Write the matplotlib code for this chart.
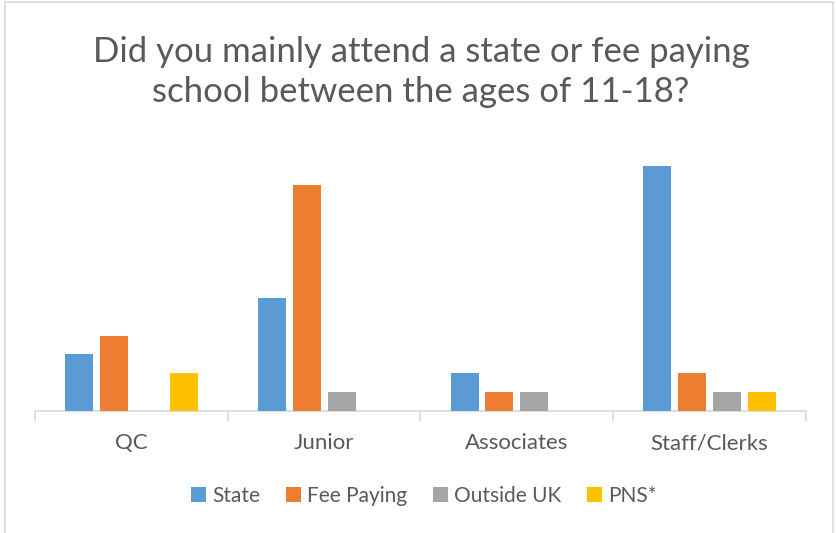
import matplotlib
matplotlib.use("Agg")
import matplotlib.pyplot as plt
import numpy as np
from matplotlib.patches import Rectangle

categories = ["QC", "Junior", "Associates", "Staff/Clerks"]
series_names = ["State", "Fee Paying", "Outside UK", "PNS*"]
state = [3, 6, 2, 13]
fee_paying = [4, 12, 1, 2]
outside_uk = [0, 1, 1, 1]
pns = [2, 0, 0, 1]
colors = ["#5B9BD5", "#ED7D31", "#A5A5A5", "#FFC000"]
title = "Did you mainly attend a state or fee paying\nschool between the ages of 11-18?"

plt.rcParams['font.family'] = ['Lato', 'DejaVu Sans']
W, H = 837, 533
fig = plt.figure(figsize=(W/100, H/100), dpi=100)
ax = fig.add_axes([35/W, 1-411/H, 771/W, (411-147)/H])

x = np.arange(len(categories))
step = 0.181
bw = 0.145
data = [state, fee_paying, outside_uk, pns]
for i, (name, vals) in enumerate(zip(series_names, data)):
    ax.bar(x + (i-1.5)*step, vals, width=bw, color=colors[i], label=name, zorder=3)

ax.set_xlim(-0.5, len(categories)-0.5)
ax.set_ylim(0, 14)
ax.set_yticks([])
for s in ['top', 'right', 'left']:
    ax.spines[s].set_visible(False)
ax.spines['bottom'].set_color('#D9D9D9')
ax.spines['bottom'].set_linewidth(1.2)
ax.set_xticks(np.arange(len(categories)+1)-0.5)
ax.set_xticklabels([])
ax.tick_params(axis='x', which='major', length=7, color='#D9D9D9', width=1.2)
ax.set_xticks(x, minor=True)
ax.set_xticklabels(categories, minor=True, fontsize=16, color='#595959')
ax.tick_params(axis='x', which='minor', length=0, pad=16)

fig.text(421/W, 1-72/H, title, ha='center', va='center', fontsize=25, color='#595959', linespacing=1.3)

leg = fig.legend(loc='center', bbox_to_anchor=(424/W, 1-496/H), ncol=4, frameon=False,
                 fontsize=15, handlelength=0.7, handleheight=0.7, handletextpad=0.3,
                 columnspacing=1.25, labelcolor='#595959')

fig.patches.append(Rectangle((5/W, -0.05), 828/W, 1.05-2/H, transform=fig.transFigure,
                             fill=False, edgecolor='#D9D9D9', linewidth=1.2))
fig.savefig("out.png", dpi=100)
